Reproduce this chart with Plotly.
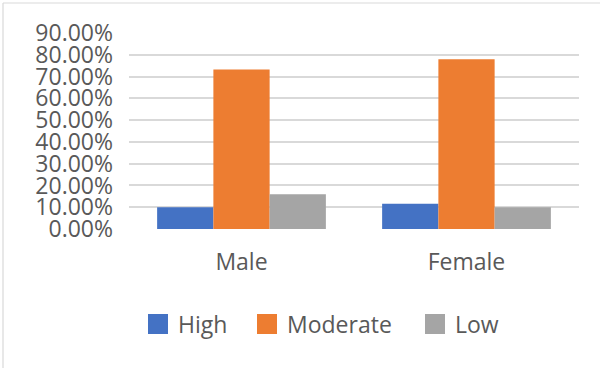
import plotly.graph_objects as go

# Data
categories = ["Male", "Female"]
series_names = ["High", "Moderate", "Low"]
high = [0.100, 0.116]
moderate = [0.732, 0.779]
low = [0.160, 0.100]
series_values = [high, moderate, low]
colors = ["#4472C4", "#ED7D31", "#A5A5A5"]
y_ticks = [i / 10 for i in range(10)]

W, H = 600, 368
ML, MR, MT, MB = 129, 21, 33, 139
FONT = dict(family="Open Sans", size=23, color="#595959")
LEGEND_FONT = dict(family="Open Sans", size=23, color="#595959")

fig = go.Figure()

# Bars (legend entries drawn by square-marker proxies below)
for name, vals, col in zip(series_names, series_values, colors):
    fig.add_trace(go.Bar(
        x=categories, y=vals, name=name, marker=dict(color=col, line=dict(width=0)),
        showlegend=False,
    ))

# Legend proxies, one legend each so they can be spaced freely
legend_ids = ["legend", "legend2", "legend3"]
legend_x = [138, 247, 415]
for name, col, lid in zip(series_names, colors, legend_ids):
    fig.add_trace(go.Scatter(
        x=[None], y=[None], mode="markers", name=name, legend=lid,
        marker=dict(symbol="square", size=16, color=col, line=dict(width=4, color=col)),
        showlegend=True,
    ))

legend_common = dict(
    orientation="h", xref="container", yref="container",
    xanchor="left", yanchor="middle", y=1 - 324 / H,
    font=LEGEND_FONT, bgcolor="rgba(0,0,0,0)", borderwidth=0,
)
layout_legends = {lid: dict(x=lx / W, **legend_common) for lid, lx in zip(legend_ids, legend_x)}

# Thin frame on the top and left edges
pw, ph = W - ML - MR, H - MT - MB
def px_to_paper_x(px):
    return (px - ML) / pw
def px_to_paper_y(py):
    return (H - MB - py) / ph

shapes = [
    dict(type="line", xref="paper", yref="paper",
         x0=px_to_paper_x(3), x1=px_to_paper_x(W + 5),
         y0=px_to_paper_y(3), y1=px_to_paper_y(3),
         line=dict(color="#D9D9D9", width=1.2)),
    dict(type="line", xref="paper", yref="paper",
         x0=px_to_paper_x(3), x1=px_to_paper_x(3),
         y0=px_to_paper_y(3), y1=px_to_paper_y(H + 5),
         line=dict(color="#D9D9D9", width=1.2)),
]

fig.update_layout(
    width=W, height=H,
    margin=dict(l=ML, r=MR, t=MT, b=MB, pad=0),
    paper_bgcolor="white", plot_bgcolor="white",
    barmode="group", bargap=0.25, bargroupgap=0,
    font=FONT,
    shapes=shapes,
    **layout_legends,
)
fig.update_xaxes(
    showgrid=False, zeroline=False, showline=False, ticks="",
    tickfont=FONT, ticklabelstandoff=17,
)
fig.update_yaxes(
    range=[0, 0.9], tickvals=y_ticks, tickformat=".2%",
    showgrid=True, gridcolor="#D9D9D9", gridwidth=1.5,
    zeroline=False, showline=False, ticks="",
    tickfont=FONT, ticklabelstandoff=15,
)

fig.write_html("out.html")
